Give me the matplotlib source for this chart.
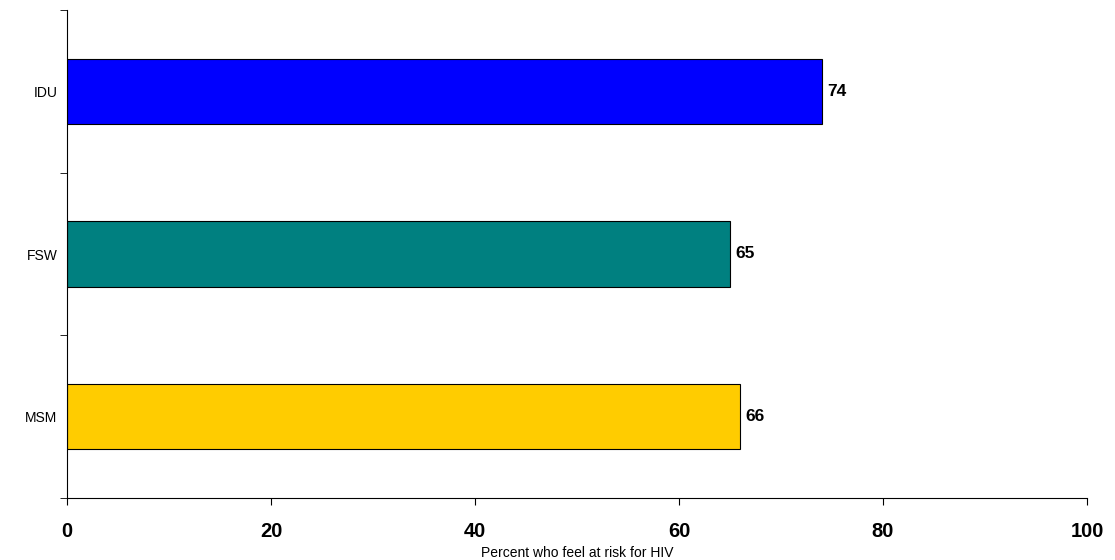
import matplotlib.pyplot as plt

# data
groups = ['MSM', 'FSW', 'IDU']
values = [66, 65, 74]
colors = ['#FFCC00', '#008080', '#0000FF']

plt.rcParams['font.family'] = ['Liberation Sans', 'DejaVu Sans']

fig = plt.figure(figsize=(11.15, 5.6), dpi=100)
ax = fig.add_axes([67 / 1115, 62 / 560, 1020 / 1115, 488 / 560])

pos = list(range(len(groups)))
ax.barh(pos, values, height=0.4, color=colors, edgecolor='black', linewidth=0.8)

for p, v in zip(pos, values):
    ax.text(v + 0.5, p, str(v), va='center', ha='left', fontsize=12.5, fontweight='bold')

ax.set_xlim(0, 100)
ax.set_ylim(-0.5, len(groups) - 0.5)
ax.set_xticks([0, 20, 40, 60, 80, 100])
ax.set_xticklabels(['0', '20', '40', '60', '80', '100'], fontsize=14.5, fontweight='bold')

# category labels without ticks, ticks sit between categories
ax.set_yticks(pos)
ax.set_yticklabels(groups, fontsize=10)
ax.tick_params(axis='y', which='major', length=0, pad=7)
ax.set_yticks([-0.5, 0.5, 1.5, 2.5], minor=True)
ax.tick_params(axis='y', which='minor', length=5, direction='out')
ax.tick_params(axis='x', length=5, direction='out', pad=12)

ax.set_xlabel('Percent who feel at risk for HIV', fontsize=10, labelpad=4)

for s in ['top', 'right']:
    ax.spines[s].set_visible(False)

plt.savefig('out.png', dpi=100)
